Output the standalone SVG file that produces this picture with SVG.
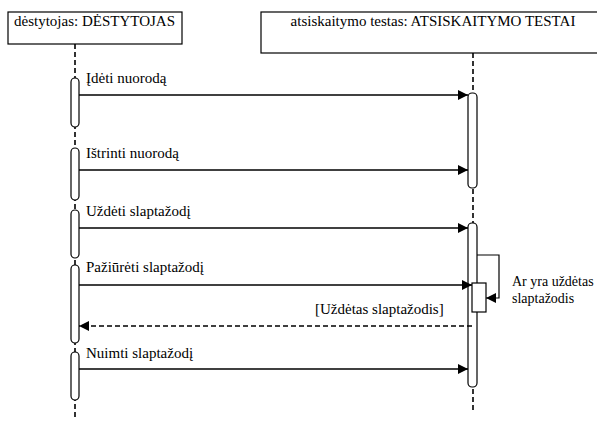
<svg xmlns="http://www.w3.org/2000/svg" width="597" height="421" viewBox="0 0 597 421">
  <style>
    .obj { fill: #fff; stroke: #000; stroke-width: 1.2; }
    .life { stroke: #000; stroke-width: 1.6; stroke-dasharray: 5 3; fill: none; }
    .act { fill: #fff; stroke: #000; stroke-width: 1.2; }
    .msg { stroke: #000; stroke-width: 1.6; fill: none; }
    .ret { stroke: #000; stroke-width: 1.4; stroke-dasharray: 5 3; fill: none; }
    .self { stroke: #000; stroke-width: 1.2; fill: none; }
    text { font-family: "Liberation Serif", "DejaVu Serif", serif; font-size: 15px; fill: #000; }
    .note { font-size: 14px; }
  </style>
  <defs>
    <marker id="arrow" viewBox="0 0 10 10" refX="10" refY="5" markerWidth="10" markerHeight="10" markerUnits="userSpaceOnUse" orient="auto">
      <path d="M0,0 L10,5 L0,10 z" fill="#000"/>
    </marker>
  </defs>
  <rect width="597" height="421" fill="#fff"/>

  <!-- lifelines -->
  <g id="lifelines">
    <line class="life" x1="75" y1="44" x2="75" y2="418"/>
    <line class="life" x1="473" y1="53" x2="473" y2="412"/>
  </g>

  <g id="destytojas">
    <rect class="obj" x="8" y="12" width="174" height="32"/>
    <text x="14" y="26">dėstytojas: DĖSTYTOJAS</text>
  </g>

  <g id="testas">
    <rect class="obj" x="261" y="12" width="345" height="41"/>
    <text x="433" y="26" text-anchor="middle">atsiskaitymo testas: ATSISKAITYMO TESTAI</text>
  </g>

  <!-- activation bars -->
  <g id="activations">
    <rect class="act" x="71" y="78" width="8" height="49" rx="4"/>
    <rect class="act" x="71" y="148" width="8" height="52" rx="4"/>
    <rect class="act" x="71" y="210" width="8" height="48" rx="4"/>
    <rect class="act" x="71" y="265" width="8" height="78" rx="4"/>
    <rect class="act" x="71" y="352" width="8" height="48" rx="4"/>
    <rect class="act" x="468" y="93" width="9" height="95" rx="4"/>
    <rect class="act" x="468" y="223" width="9" height="164" rx="4"/>
    <rect class="act" x="472" y="283" width="14" height="29" rx="0"/>
  </g>

  <g id="connectors">
    <line class="msg" x1="79" y1="95" x2="468" y2="95" marker-end="url(#arrow)"/>
    <line class="msg" x1="79" y1="170" x2="468" y2="170" marker-end="url(#arrow)"/>
    <line class="msg" x1="79" y1="228" x2="468" y2="228" marker-end="url(#arrow)"/>
    <line class="msg" x1="79" y1="285" x2="472" y2="285" marker-end="url(#arrow)"/>
    <line class="ret" x1="472" y1="326" x2="79" y2="326" marker-end="url(#arrow)"/>
    <line class="msg" x1="79" y1="369" x2="468" y2="369" marker-end="url(#arrow)"/>
    <polyline class="self" points="477,255 499,255 499,298 486,298" marker-end="url(#arrow)"/>
  </g>

  <g id="labels">
    <text x="86" y="83">Įdėti nuorodą</text>
    <text x="86" y="158">Ištrinti nuorodą</text>
    <text x="86" y="216">Uždėti slaptažodį</text>
    <text x="86" y="272">Pažiūrėti slaptažodį</text>
    <text x="315" y="314">[Uždėtas slaptažodis]</text>
    <text x="86" y="358">Nuimti slaptažodį</text>
    <text class="note" x="512" y="286">Ar yra uždėtas</text>
    <text class="note" x="512" y="303">slaptažodis</text>
  </g>
</svg>
